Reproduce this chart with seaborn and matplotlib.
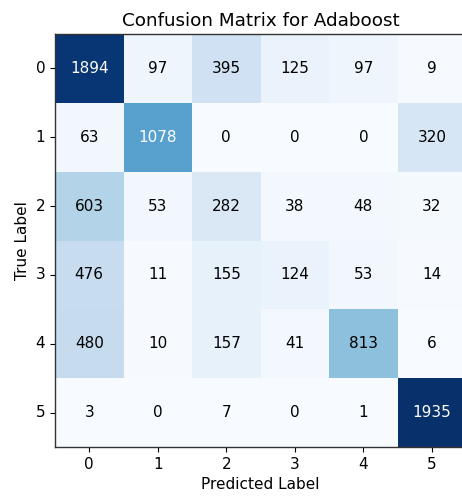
import numpy as np
import matplotlib
matplotlib.use("Agg")
import matplotlib.pyplot as plt
import seaborn as sns

# class labels and confusion matrix counts
labels = ["0", "1", "2", "3", "4", "5"]
row0 = [1894, 97, 395, 125, 97, 9]
row1 = [63, 1078, 0, 0, 0, 320]
row2 = [603, 53, 282, 38, 48, 32]
row3 = [476, 11, 155, 124, 53, 14]
row4 = [480, 10, 157, 41, 813, 6]
row5 = [3, 0, 7, 0, 1, 1935]

cm = np.array([row0, row1, row2, row3, row4, row5])

fig = plt.figure(figsize=(4.62, 4.99), dpi=100)
ax = fig.add_axes([0.119, 0.104, 0.89, 0.828])

sns.heatmap(cm, annot=True, fmt="d", cmap="Blues", cbar=False,
            xticklabels=labels, yticklabels=labels, ax=ax,
            annot_kws={"fontsize": 11})

# white text on dark cells, black elsewhere
thresh = cm.max() / 2
for txt, val in zip(ax.texts, cm.flat):
    txt.set_color("white" if val > thresh else "black")

for s in ax.spines.values():
    s.set_visible(True)
    s.set_color("#333333")
    s.set_linewidth(1.0)

ax.tick_params(length=3.5, labelsize=11)
plt.setp(ax.get_yticklabels(), rotation=0)
ax.set_title("Confusion Matrix for Adaboost", fontsize=13.2)
ax.set_xlabel("Predicted Label", fontsize=11)
ax.set_ylabel("True Label", fontsize=11)

fig.savefig("out.png", dpi=100)
